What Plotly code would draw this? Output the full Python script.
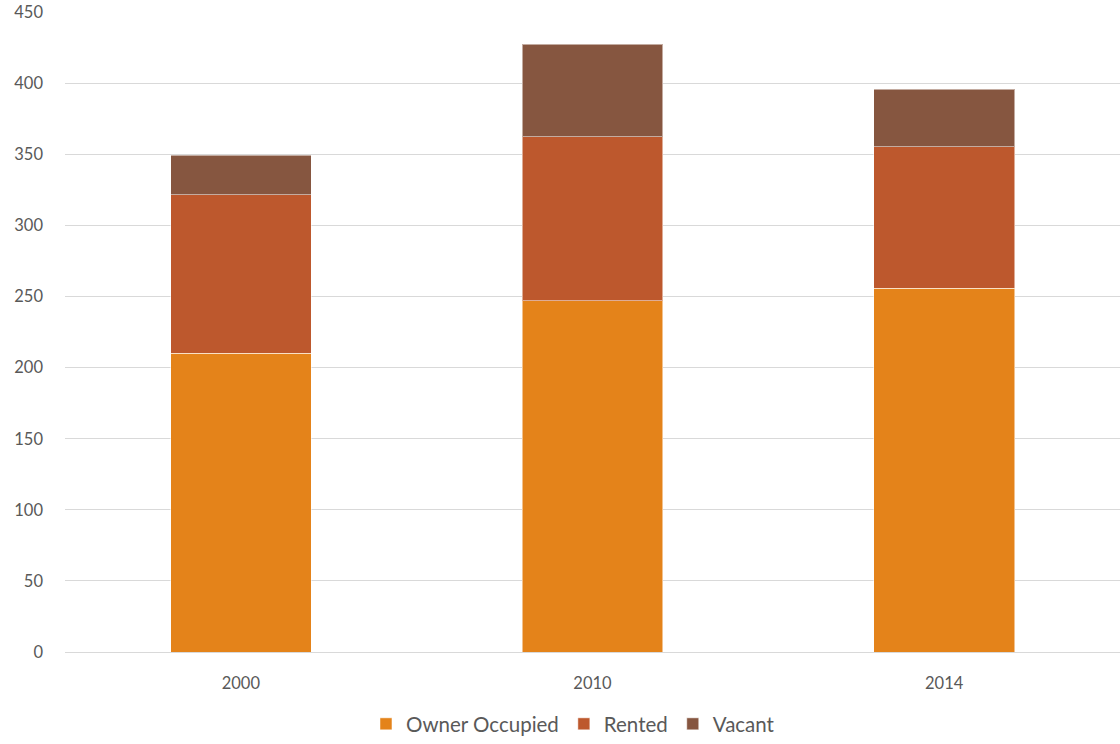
import plotly.graph_objects as go

years = ["2000", "2010", "2014"]
owner_occupied = [210, 247, 256]
rented = [111.5, 115.5, 99.5]
vacant = [28, 65, 40.5]
y_ticks = [0, 50, 100, 150, 200, 250, 300, 350, 400, 450]

colors = {"Owner Occupied": "#E4831A", "Rented": "#BD582D", "Vacant": "#865640"}
series = [("Owner Occupied", owner_occupied), ("Rented", rented), ("Vacant", vacant)]

fig = go.Figure()
for name, vals in series:
    fig.add_trace(go.Bar(
        x=years, y=vals, name=name,
        marker=dict(color=colors[name], line=dict(color="rgba(255,255,255,0.5)", width=1)),
    ))

font_family = "Lato, 'Noto Sans', sans-serif"
fig.update_layout(
    barmode="stack",
    bargap=0.6,
    width=1120, height=744,
    margin=dict(l=65, r=0, t=12, b=86),
    paper_bgcolor="white", plot_bgcolor="white",
    font=dict(family=font_family, color="#595959", size=16),
    showlegend=True,
    legend=dict(orientation="h", x=0.4815, xanchor="center", y=-0.113, yanchor="middle",
                font=dict(size=20.5, color="#595959"), traceorder="normal",
                itemwidth=30),
    xaxis=dict(type="category", showgrid=False, showline=False, ticks="", automargin=False,
               tickfont=dict(size=16.5, color="#595959"), ticklabelstandoff=19),
    yaxis=dict(range=[0, 450.2], tickvals=y_ticks, showgrid=True, gridcolor="#D9D9D9",
               gridwidth=1, zeroline=True, zerolinecolor="#D9D9D9", zerolinewidth=1,
               automargin=False, ticklabeloverflow="allow",
               ticks="", tickfont=dict(size=16.5, color="#595959"), ticklabelstandoff=21),
)

fig.write_html("out.html", config={"displayModeBar": False},
               post_script="document.body.style.margin='0';")
